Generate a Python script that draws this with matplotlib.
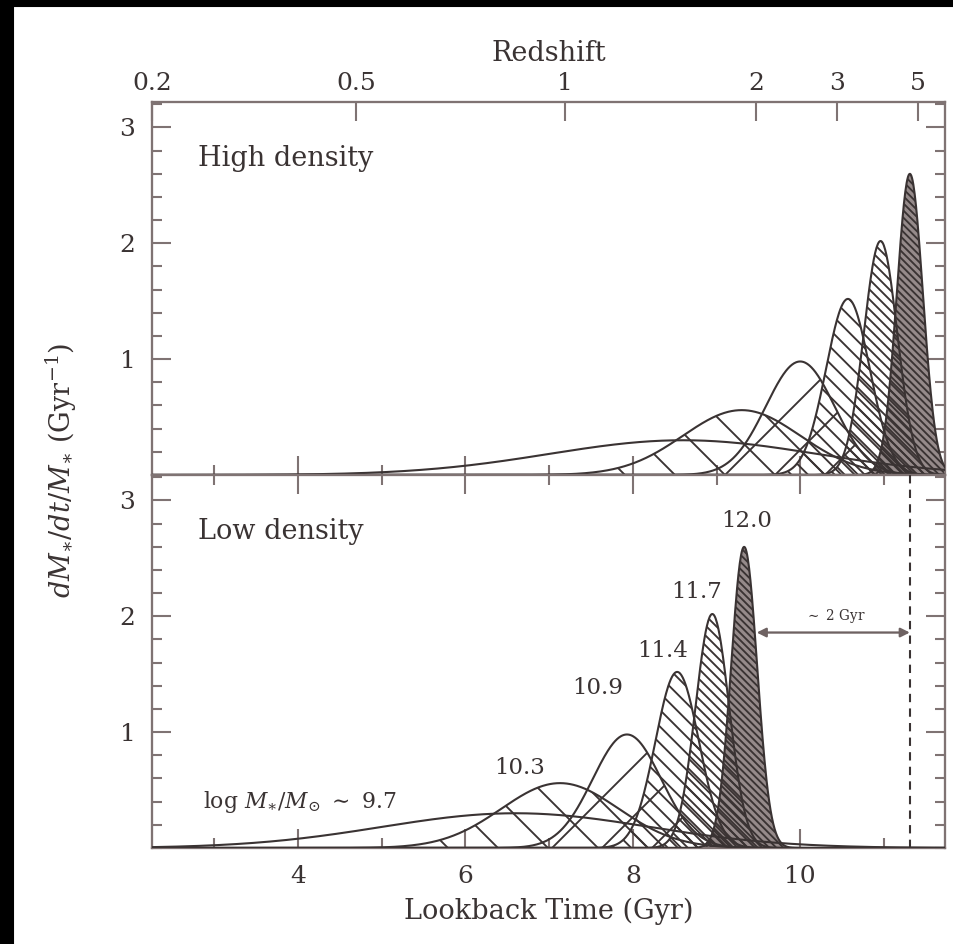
import numpy as np
import matplotlib.pyplot as plt
from matplotlib.patches import Rectangle
from matplotlib.ticker import MultipleLocator

plt.rcParams['font.family'] = 'DejaVu Serif'
plt.rcParams['mathtext.fontset'] = 'dejavuserif'
plt.rcParams['hatch.linewidth'] = 0.9

# log M*/Msun of each star formation history
masses = ['9.7', '10.3', '10.9', '11.4', '11.7', '12.0']
# peak lookback time (Gyr), peak height and width
peak_high = [8.6, 9.3, 10.0, 10.57, 10.96, 11.31]
peak_low = [6.6, 7.13, 7.93, 8.53, 8.95, 9.33]
height_high = [0.30, 0.56, 0.98, 1.52, 2.02, 2.60]
height_low = [0.30, 0.56, 0.98, 1.52, 2.02, 2.60]
width = [1.6, 0.70, 0.41, 0.26, 0.20, 0.155]

# redshift axis on top
z_labels = ['0.2', '0.5', '1', '2', '3', '5']
z_lookback = [2.255, 4.69, 7.19, 9.47, 10.44, 11.41]

hatches = ['', '\\', '/', '\\\\\\', '\\\\\\\\\\', '\\\\\\\\\\\\\\']
faces = ['none', 'none', 'none', 'none', 'none', '#958a8a']

ink = '#3a3333'
frame = '#7f7373'

fig = plt.figure(figsize=(953/150, 944/150), dpi=150)
ax1 = fig.add_axes([152/953, 1-475/944, 793/953, 373/944])
ax2 = fig.add_axes([152/953, 1-848/944, 793/953, 373/944], sharex=ax1)

t = np.linspace(2.2, 11.8, 1200)

def draw(ax, peaks, heights):
    # heaviest (solid shaded) first so the others' hatching shows over it
    for i in reversed(range(len(masses))):
        y = heights[i] * np.exp(-0.5 * ((t - peaks[i]) / width[i]) ** 2)
        ax.fill_between(t, 0, y, facecolor=faces[i], edgecolor=ink,
                        hatch=hatches[i], linewidth=0, zorder=2)
        ax.plot(t, y, color=ink, lw=1.0, zorder=3)

draw(ax1, peak_high, height_high)
draw(ax2, peak_low, height_low)

for ax in (ax1, ax2):
    ax.set_xlim(2.255, 11.73)
    ax.set_ylim(0, 3.22)
    ax.set_yticks([1, 2, 3])
    ax.yaxis.set_minor_locator(MultipleLocator(0.2))
    ax.set_xticks([4, 6, 8, 10])
    ax.xaxis.set_minor_locator(MultipleLocator(1))
    ax.tick_params(which='both', direction='in', right=True, color=frame,
                   width=1.0, labelcolor=ink, labelsize=12, pad=8)
    ax.tick_params(which='major', length=9)
    ax.tick_params(which='minor', length=4.8)
    for s in ax.spines.values():
        s.set_color(frame)
        s.set_linewidth(1.1)

ax1.tick_params(which='both', top=False, labelbottom=False)
ax2.tick_params(which='both', top=True)

sec = ax1.secondary_xaxis('top')
sec.set_xticks(z_lookback, labels=z_labels)
sec.xaxis.set_minor_locator(plt.NullLocator())
sec.tick_params(direction='in', length=9, width=1.0, color=frame,
                labelcolor=ink, labelsize=12, pad=3.5)
sec.spines['top'].set_visible(False)
sec.set_xlabel('Redshift', fontsize=13, color=ink, labelpad=5)

ax2.set_xlabel('Lookback Time (Gyr)', fontsize=13, color=ink, labelpad=5)
fig.text(0.064, 0.502, r'$dM_{\ast}/dt/M_{\ast}$ (Gyr$^{-1}$)', rotation=90,
         ha='center', va='center', fontsize=13, color=ink)

ax1.text(2.80, 2.73, 'High density', fontsize=13, color=ink, va='center')
ax2.text(2.80, 2.73, 'Low density', fontsize=13, color=ink, va='center')

# mass labels in the low density panel
ax2.text(4.02, 0.40, r'log $M_{\ast}/M_{\odot}$ $\sim$ 9.7', fontsize=10.5,
         color=ink, ha='center', va='center')
label_pos = [(6.65, 0.69), (7.58, 1.38), (8.36, 1.70), (8.76, 2.21), (9.36, 2.82)]
for m, (x, y) in zip(masses[1:], label_pos):
    ax2.text(x, y, m, fontsize=11, color=ink, ha='center', va='center')

ax2.axvline(11.31, color=ink, lw=1.0, ls=(0, (4, 3)), zorder=4)
ax2.annotate('', xy=(11.31, 1.86), xytext=(9.48, 1.86),
             arrowprops=dict(arrowstyle='<|-|>', color='#6e6262', lw=1.1,
                             mutation_scale=9, shrinkA=0, shrinkB=0))
ax2.text(10.42, 2.0, r'$\sim$ 2 Gyr', fontsize=6.5, color=ink, ha='center', va='center')

# dark border of the scanned page
fig.patches.append(Rectangle((0, 0), 13/953, 1, transform=fig.transFigure,
                             color='black', zorder=10))
fig.patches.append(Rectangle((0, 1-6/944), 1, 6/944, transform=fig.transFigure,
                             color='black', zorder=10))

fig.savefig('out.png', dpi=150, facecolor='white')
